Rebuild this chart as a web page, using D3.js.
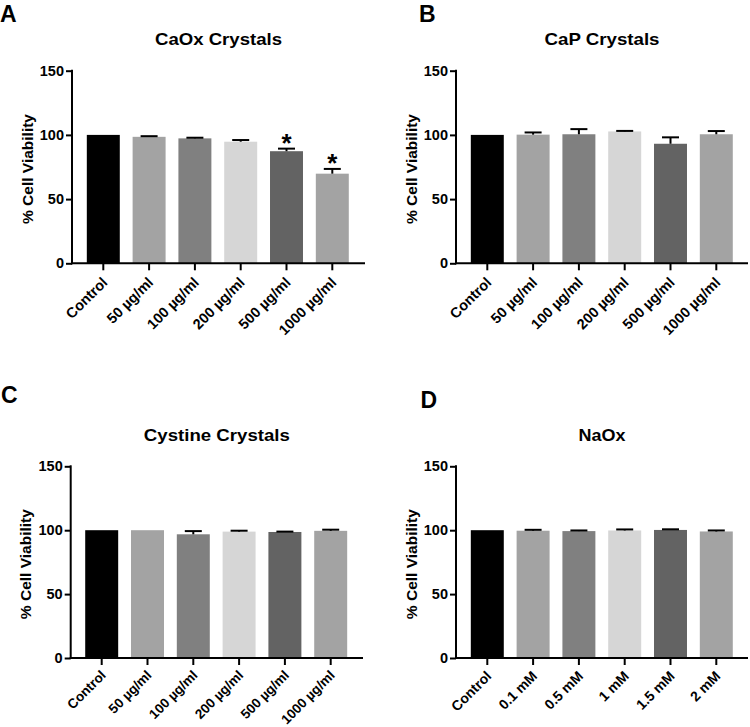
<!DOCTYPE html>
<html>
<head>
<meta charset="utf-8">
<script src="https://cdn.jsdelivr.net/npm/d3@7"></script>
<style>
  html, body { margin: 0; padding: 0; background: #fff; }
  svg { display: block; }
  text { font-family: "Liberation Sans", Arial, Helvetica, sans-serif; font-weight: bold; fill: #000; }
</style>
</head>
<body>
<svg id="chart" width="750" height="727"></svg>
<script>
// ---------------- DATA ----------------
const crystalCategories = ["Control", "50 µg/ml", "100 µg/ml", "200 µg/ml", "500 µg/ml", "1000 µg/ml"];
const naoxCategories = ["Control", "0.1 mM", "0.5 mM", "1 mM", "1.5 mM", "2 mM"];
const yTicks = [0, 50, 100, 150];
const barColors = ["#000000", "#a3a3a3", "#808080", "#d6d6d6", "#636363", "#a3a3a3"];

const caoxMeans = [100, 98.5, 97.3, 94.7, 87.3, 69.8];
const caoxErrors = [0, 0.5, 0.5, 1.3, 2.0, 3.7];
const caoxSignificant = [false, false, false, false, true, true];

const capMeans = [100, 100.2, 100.5, 102.7, 93.1, 100.5];
const capErrors = [0, 1.7, 4.0, 0.4, 5.0, 2.5];
const capSignificant = [false, false, false, false, false, false];

const cystineMeans = [100, 100, 96.8, 98.9, 98.6, 99.5];
const cystineErrors = [0, 0, 2.5, 0.7, 0.3, 0.9];
const cystineSignificant = [false, false, false, false, false, false];

const naoxMeans = [100, 99.6, 99.3, 99.8, 100.2, 99.0];
const naoxErrors = [0, 0.7, 0.5, 0.8, 0.5, 0.8];
const naoxSignificant = [false, false, false, false, false, false];

// ---------------- LAYOUT ----------------
const panels = [
  { letter: "A", letterX: 0, letterY: 21.5, title: "CaOx Crystals", titleLen: 127,
    cats: crystalCategories, means: caoxMeans, errs: caoxErrors, sig: caoxSignificant,
    axisX: 72, axisEnd: 365, y0: 263.3, yTop: 70.7, firstCenter: 103.3, labelX: 27.5,
    xFont: 14.5, xShift: 20 },
  { letter: "B", letterX: 419, letterY: 21.5, title: "CaP Crystals", titleLen: 115,
    cats: crystalCategories, means: capMeans, errs: capErrors, sig: capSignificant,
    axisX: 456, axisEnd: 748, y0: 263.3, yTop: 70.7, firstCenter: 487.3, labelX: 412,
    xFont: 14.5, xShift: 20 },
  { letter: "C", letterX: 1, letterY: 402.5, title: "Cystine Crystals", titleLen: 146,
    cats: crystalCategories, means: cystineMeans, errs: cystineErrors, sig: cystineSignificant,
    axisX: 70.7, axisEnd: 363, y0: 658, yTop: 466.3, firstCenter: 101.7, labelX: 26,
    xFont: 13.5, xShift: 18 },
  { letter: "D", letterX: 420.5, letterY: 408, title: "NaOx", titleLen: 47,
    cats: naoxCategories, means: naoxMeans, errs: naoxErrors, sig: naoxSignificant,
    axisX: 456, axisEnd: 748, y0: 658, yTop: 466.3, firstCenter: 487.3, labelX: 412,
    xFont: 14, xShift: 19 }
];
const step = 45.8;

const svg = d3.select("#chart");

panels.forEach(p => {
  const g = svg.append("g");
  const n = p.cats.length;
  const x = d3.scaleBand()
    .domain(p.cats)
    .range([p.firstCenter - step / 2, p.firstCenter - step / 2 + step * n])
    .paddingInner(0.28)
    .paddingOuter(0.14);
  const y = d3.scaleLinear().domain([0, 150]).range([p.y0, p.yTop]);

  // Panel letter
  g.append("text")
    .attr("x", p.letterX).attr("y", p.letterY)
    .attr("font-size", 23)
    .text(p.letter);

  // Title
  const cx = (p.axisX + p.axisEnd) / 2;
  g.append("text")
    .attr("x", cx - p.titleLen / 2).attr("y", p.yTop - 25.5)
    .attr("font-size", 17)
    .attr("textLength", p.titleLen).attr("lengthAdjust", "spacingAndGlyphs")
    .text(p.title);

  // Bars
  g.selectAll("rect.bar").data(p.cats).enter().append("rect")
    .attr("class", "bar")
    .attr("x", d => x(d))
    .attr("width", x.bandwidth())
    .attr("y", (d, i) => y(p.means[i]))
    .attr("height", (d, i) => y(0) - y(p.means[i]))
    .attr("fill", (d, i) => barColors[i]);

  // Error bars (upper only)
  const capHalf = 8.5;
  p.cats.forEach((d, i) => {
    if (p.errs[i] <= 0) return;
    const xc = x(d) + x.bandwidth() / 2;
    const yTopErr = y(p.means[i] + p.errs[i]);
    g.append("line")
      .attr("x1", xc).attr("x2", xc)
      .attr("y1", y(p.means[i])).attr("y2", yTopErr)
      .attr("stroke", "#000").attr("stroke-width", 2);
    g.append("line")
      .attr("x1", xc - capHalf).attr("x2", xc + capHalf)
      .attr("y1", yTopErr).attr("y2", yTopErr)
      .attr("stroke", "#000").attr("stroke-width", 2);
  });

  // Significance asterisks
  p.cats.forEach((d, i) => {
    if (!p.sig[i]) return;
    const xc = x(d) + x.bandwidth() / 2;
    g.append("text")
      .attr("x", xc).attr("y", y(p.means[i] + p.errs[i]) + 3)
      .attr("text-anchor", "middle")
      .attr("font-size", 26)
      .text("*");
  });

  // Y axis
  const yAxis = d3.axisLeft(y).tickValues(yTicks).tickSize(6).tickPadding(2).tickSizeOuter(0);
  const ya = g.append("g").attr("transform", `translate(${p.axisX},0)`).call(yAxis);
  ya.select(".domain").remove();
  ya.selectAll(".tick line").attr("stroke", "#000").attr("stroke-width", 2);
  ya.selectAll(".tick text")
    .attr("font-size", 14.5).attr("font-family", null).attr("font-weight", "bold").attr("fill", "#000");
  g.append("line")
    .attr("x1", p.axisX).attr("x2", p.axisX)
    .attr("y1", p.y0 + 1).attr("y2", p.yTop - 1)
    .attr("stroke", "#000").attr("stroke-width", 2);

  // X axis
  const xAxis = d3.axisBottom(x).tickSize(7).tickSizeOuter(0);
  const xa = g.append("g").attr("transform", `translate(0,${p.y0})`).call(xAxis);
  xa.select(".domain").remove();
  xa.selectAll(".tick line").attr("stroke", "#000").attr("stroke-width", 2);
  xa.selectAll(".tick text")
    .attr("font-size", p.xFont).attr("font-family", null).attr("font-weight", "bold").attr("fill", "#000")
    .attr("text-anchor", "end")
    .attr("x", 0).attr("y", 0).attr("dy", null)
    .attr("transform", `translate(5,${p.xShift}) rotate(-45)`);
  g.append("line")
    .attr("x1", p.axisX - 1).attr("x2", p.axisEnd)
    .attr("y1", p.y0).attr("y2", p.y0)
    .attr("stroke", "#000").attr("stroke-width", 2);

  // Y label
  const yMid = (p.y0 + p.yTop) / 2;
  g.append("text")
    .attr("transform", `translate(${p.labelX + 5},${yMid + 2}) rotate(-90)`)
    .attr("x", -55).attr("y", 0)
    .attr("font-size", 14.5)
    .attr("textLength", 110).attr("lengthAdjust", "spacingAndGlyphs")
    .text("% Cell Viability");
});
</script>
</body>
</html>
